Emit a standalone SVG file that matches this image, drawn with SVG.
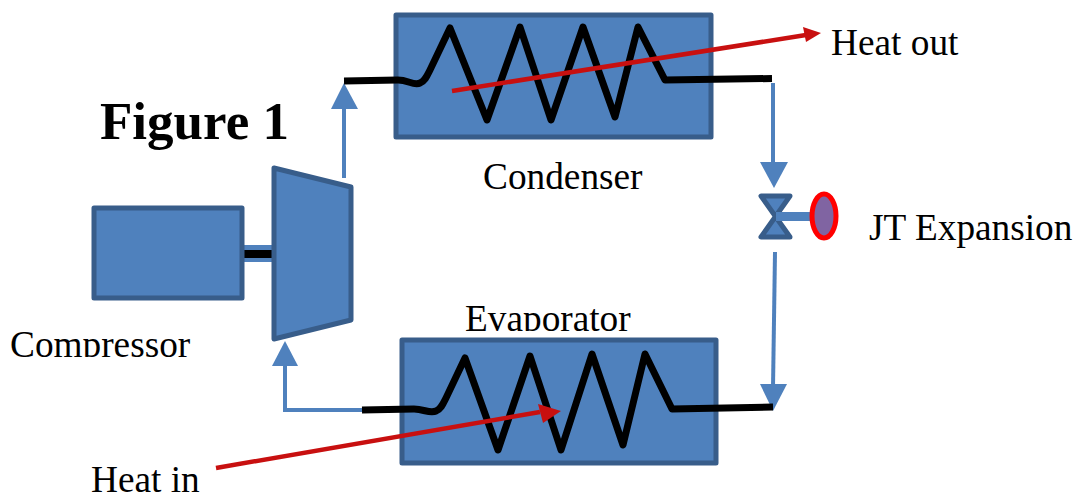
<svg xmlns="http://www.w3.org/2000/svg" width="1076" height="495" viewBox="0 0 1076 495">
<style>
.box{fill:#4f81bd;stroke:#385d8a;stroke-width:5;stroke-linejoin:round}
.pipe{fill:none;stroke:#4f81bd;stroke-width:4}
.coil{fill:none;stroke:#000;stroke-width:7;stroke-linejoin:round;stroke-linecap:butt}
.heat{fill:none;stroke:#c81010;stroke-width:4.5}
.head{fill:#4f81bd}
.redhead{fill:#c81010}
text{font-family:"Liberation Serif","Times New Roman",serif;font-size:37.3px;fill:#000}
</style>
<defs>
<clipPath id="clipEvap"><rect x="440" y="290" width="220" height="41"/></clipPath>
<clipPath id="clipComp"><rect x="0" y="310" width="200" height="47"/></clipPath>
</defs>
<rect width="1076" height="495" fill="#fff"/>
<g id="connectors">
<path class="pipe" d="M344 178V108"/>
<path class="head" d="M331 109L344 83L358 109Z"/>
<path class="pipe" d="M773 83L773 165"/>
<path class="head" d="M760 162H788L774 188Z"/>
<path class="pipe" d="M775 252L773 388"/>
<path class="head" d="M760 384H787L773 411Z"/>
<path class="pipe" d="M362 410H285V366"/>
<path class="head" d="M272 366L285 341L298 366Z"/>
<path d="M243 245H274V262H243Z" fill="#4f81bd"/>
<path d="M243 250H272V258H243Z" fill="#000"/>
</g>
<g id="compressor-motor"><rect class="box" x="94" y="208" width="148" height="90"/></g>
<g id="compressor"><path class="box" d="M274 168L351 187V320L274 339Z"/></g>
<g id="condenser">
<rect class="box" x="396" y="15" width="315" height="122"/>
<path class="coil" d="M344 81L398 80C408 80 414 86 420 83C425 81 427 76 430 70L450 28L487 120L520 27L551 120L583 27L615 117L638 27L665 80L772 78.500"/>
</g>
<g id="evaporator">
<rect class="box" x="402" y="340" width="314" height="123"/>
<path class="coil" d="M362 410L414 409C424 409 430 414 436 411C441 409 443 404 446 398L465 358L498 450L530 356L561 450L592 354L623 445L645 354L672 409L773 407"/>
</g>
<g id="valve">
<path d="M761 196H790L761 237H790Z" fill="#4f81bd" stroke="#385d8a" stroke-width="5" stroke-linejoin="round"/>
<path d="M776 212H812V221H776Z" fill="#4f81bd"/>
<ellipse cx="824" cy="216" rx="12" ry="22" fill="#8064a2" stroke="#f00" stroke-width="5"/>
</g>
<g id="heat-flows">
<path class="heat" d="M452 91L806 35"/>
<path class="redhead" d="M803 27L821 33L806 42Z"/>
<path class="heat" d="M216 468L540 412"/>
<path class="redhead" d="M538 404L561 411L543 423Z"/>
</g>
<g id="labels">
<text x="100" y="139" style="font-size:53px;font-weight:bold">Figure 1</text>
<text x="831" y="55">Heat out</text>
<text x="483" y="189">Condenser</text>
<text x="869" y="240">JT Expansion</text>
<text x="465" y="331" clip-path="url(#clipEvap)">Evaporator</text>
<text x="10" y="357" clip-path="url(#clipComp)">Compressor</text>
<text x="91" y="492">Heat in</text>
</g>
</svg>
